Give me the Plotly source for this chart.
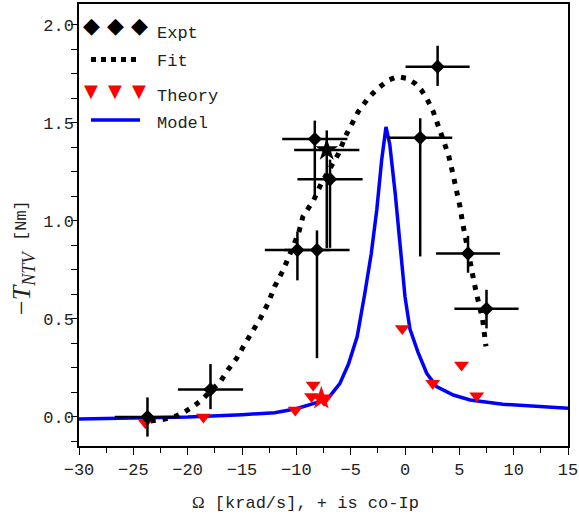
import plotly.graph_objects as go

# ---------------- data ----------------
expt_x = [-23.7, -17.9, -9.9, -8.1, -8.3, -7.2, -6.9, 1.4, 3.0, 5.8, 7.5]
expt_y = [0.0, 0.14, 0.852, 0.852, 1.418, 1.362, 1.213, 1.424, 1.787, 0.834, 0.552]
expt_sym = ["diamond", "diamond", "diamond", "diamond", "diamond", "star",
            "diamond", "diamond", "diamond", "diamond", "diamond"]
expt_xerr = [3.0, 3.0, 3.0, 3.0, 3.0, 3.0, 3.0, 2.95, 2.95, 2.95, 2.95]
expt_yerr_plus = [0.10, 0.13, 0.093, 0.10, 0.094, 0.10, 0.10, 0.10, 0.107, 0.09, 0.097]
expt_yerr_minus = [0.10, 0.10, 0.155, 0.552, 0.31, 0.50, 0.35, 0.605, 0.098, 0.098, 0.10]

fit_x = [-23.4, -22.2, -21.2, -20.4, -19.5, -18.7, -17.8, -17.0, -16.3, -15.5,
         -14.7, -14.0, -13.3, -12.6, -12.0, -11.2, -10.6, -9.8, -9.4, -8.4,
         -7.7, -6.8, -6.1, -5.5, -4.9, -4.3, -3.4, -2.5, -1.5, -0.7,
         0.15, 0.9, 1.5, 2.0, 2.6, 3.1, 3.5, 4.0, 4.4, 4.75,
         5.06, 5.3, 5.55, 5.83, 6.1, 6.35, 6.6, 6.9, 7.15, 7.3, 7.45]
fit_y = [-0.02, -0.012, 0.002, 0.022, 0.053, 0.087, 0.138, 0.18, 0.24, 0.299,
         0.376, 0.435, 0.504, 0.58, 0.665, 0.75, 0.835, 0.937, 1.022, 1.107,
         1.192, 1.277, 1.345, 1.43, 1.498, 1.558, 1.626, 1.677, 1.719, 1.736,
         1.728, 1.703, 1.668, 1.626, 1.558, 1.481, 1.413, 1.337, 1.243, 1.158,
         1.073, 0.99, 0.91, 0.835, 0.76, 0.69, 0.625, 0.56, 0.495, 0.427, 0.36]

theory_x = [-23.9, -18.55, -10.1, -8.6, -8.45, -7.7, -7.45, -0.25, 2.55, 5.2, 6.6]
theory_y = [-0.03, 0.0, 0.036, 0.104, 0.163, 0.095, 0.085, 0.452, 0.172, 0.265, 0.109]
theory_sym = ["triangle-down", "triangle-down", "triangle-down", "triangle-down",
              "triangle-down", "star", "triangle-down", "triangle-down",
              "triangle-down", "triangle-down", "triangle-down"]

model_x = [-30, -25, -20, -15, -12, -10, -8, -7, -6, -5.2, -4.4, -3.7, -3.1, -2.6,
           -2.15, -1.75, -1.4, -0.9, -0.45, 0.0, 0.45, 1.2, 2.0, 2.9, 4.45, 6.0,
           9.0, 12.0, 15.0]
model_y = [-0.01, -0.005, 0.0, 0.012, 0.022, 0.042, 0.076, 0.1, 0.17, 0.27, 0.41,
           0.63, 0.835, 1.056, 1.31, 1.48, 1.39, 1.14, 0.886, 0.614, 0.45, 0.33,
           0.223, 0.155, 0.112, 0.087, 0.065, 0.053, 0.044]

x_tickvals = [-30, -25, -20, -15, -10, -5, 0, 5, 10, 15]
y_tickvals = [0.0, 0.5, 1.0, 1.5, 2.0]
y_ticktext = ["0.0", "0.5", "1.0", "1.5", "2.0"]

legend_labels = ["Expt", "Fit", "Theory", "Model"]

# ---------------- figure ----------------
MONO = "Liberation Mono, Courier New, monospace"
SERIF = "Liberation Serif, Times New Roman, serif"
TXT = "#222222"

expt_size = [17 if s == "star" else 11 for s in expt_sym]
theory_size = [18 if s == "star" else 13 for s in theory_sym]

fig = go.Figure()

fig.add_trace(go.Scatter(
    x=model_x, y=model_y, mode="lines",
    line=dict(color="#0000ff", width=3.5), showlegend=False))

fig.add_trace(go.Scatter(
    x=theory_x, y=theory_y, mode="markers",
    marker=dict(symbol=theory_sym, size=theory_size, color="#ff0000", opacity=1,
                line=dict(width=0)),
    showlegend=False))

fig.add_trace(go.Scatter(
    x=fit_x, y=fit_y, mode="lines",
    line=dict(color="black", width=5, dash="5px,7px"), showlegend=False))

fig.add_trace(go.Scatter(
    x=expt_x, y=expt_y, mode="markers",
    marker=dict(symbol=expt_sym, size=expt_size, color="black", opacity=1,
                line=dict(width=0)),
    error_x=dict(type="data", array=expt_xerr, color="black", thickness=2.5, width=0),
    error_y=dict(type="data", array=expt_yerr_plus, arrayminus=expt_yerr_minus,
                 symmetric=False, color="black", thickness=2.5, width=0),
    showlegend=False))

# plot-area geometry (pixels) used for legend / title placement
L, R, T, B = 79, 568, 4, 446
W, H = R - L, B - T


def px(xp):
    return (xp - L) / W


def py(yp):
    return (B - yp) / H


annotations = []
shapes = []

# legend: Expt (three diamonds)
for xp in [91, 115, 139]:
    annotations.append(dict(xref="paper", yref="paper", x=px(xp), y=py(25),
                            text="◆", showarrow=False, xanchor="center", yanchor="middle",
                            font=dict(family="DejaVu Sans", size=22, color="black")))
# legend: Theory (three down triangles)
for xp in [91, 115, 139]:
    annotations.append(dict(xref="paper", yref="paper", x=px(xp), y=py(91),
                            text="▼", showarrow=False, xanchor="center", yanchor="middle",
                            font=dict(family="DejaVu Sans", size=18, color="#ff0000")))
# legend line samples
shapes.append(dict(type="line", xref="paper", yref="paper", x0=px(91), x1=px(141),
                   y0=py(59.5), y1=py(59.5), line=dict(color="black", width=5, dash="5px,5px")))
shapes.append(dict(type="line", xref="paper", yref="paper", x0=px(91), x1=px(140),
                   y0=py(120), y1=py(120), line=dict(color="#0000ff", width=3.5)))
# legend labels
for lab, yp in zip(legend_labels, [33, 62, 96, 123]):
    annotations.append(dict(xref="paper", yref="paper", x=px(155), y=py(yp),
                            text=lab, showarrow=False, xanchor="left", yanchor="middle",
                            font=dict(family=MONO, size=17, color=TXT)))

# axis titles
annotations.append(dict(
    xref="paper", yref="paper", x=px(305), y=py(503),
    text=f"<span style='font-family:{SERIF}'>Ω</span> [krad/s], + is co-Ip",
    showarrow=False, xanchor="center", yanchor="middle",
    font=dict(family=MONO, size=17, color=TXT)))
annotations.append(dict(
    xref="paper", yref="paper", x=px(23), y=py(283), textangle=-90,
    text="−<i>T</i><sub><i>NTV</i></sub>",
    showarrow=False, xanchor="center", yanchor="middle",
    font=dict(family=SERIF, size=26, color=TXT)))
annotations.append(dict(
    xref="paper", yref="paper", x=px(21), y=py(221), textangle=-90,
    text="[Nm]",
    showarrow=False, xanchor="center", yanchor="middle",
    font=dict(family=MONO, size=17, color=TXT)))

fig.update_layout(
    width=579, height=518,
    margin=dict(l=L, r=579 - R, t=T, b=518 - B, autoexpand=False),
    paper_bgcolor="white", plot_bgcolor="white",
    showlegend=False,
    annotations=annotations, shapes=shapes,
    font=dict(family=MONO, size=17, color=TXT),
)

fig.update_xaxes(
    range=[-30, 15], tickvals=x_tickvals, ticks="outside", ticklen=7, tickwidth=1.3,
    tickcolor="black", showline=True, linecolor="black", linewidth=1.5, mirror=True,
    showgrid=False, zeroline=False, automargin=False,
    tickfont=dict(family=MONO, size=17, color=TXT),
    minor=dict(dtick=2.5, ticks="outside", ticklen=5, tickwidth=1.3, tickcolor="black",
               showgrid=False),
)
fig.update_yaxes(
    range=[-0.148, 2.107], tickvals=y_tickvals, ticktext=y_ticktext, ticks="outside",
    ticklen=6, tickwidth=1.3, tickcolor="black", showline=True, linecolor="black",
    linewidth=1.5, mirror=True, showgrid=False, zeroline=False, automargin=False,
    ticklabelstandoff=-6,
    tickfont=dict(family=MONO, size=17, color=TXT),
    minor=dict(dtick=0.125, tick0=0, ticks="outside", ticklen=6, tickwidth=1.3,
               tickcolor="black", showgrid=False),
)

fig.write_html("out.html", config={"displayModeBar": False},
               post_script="document.body.style.margin='0px';")
